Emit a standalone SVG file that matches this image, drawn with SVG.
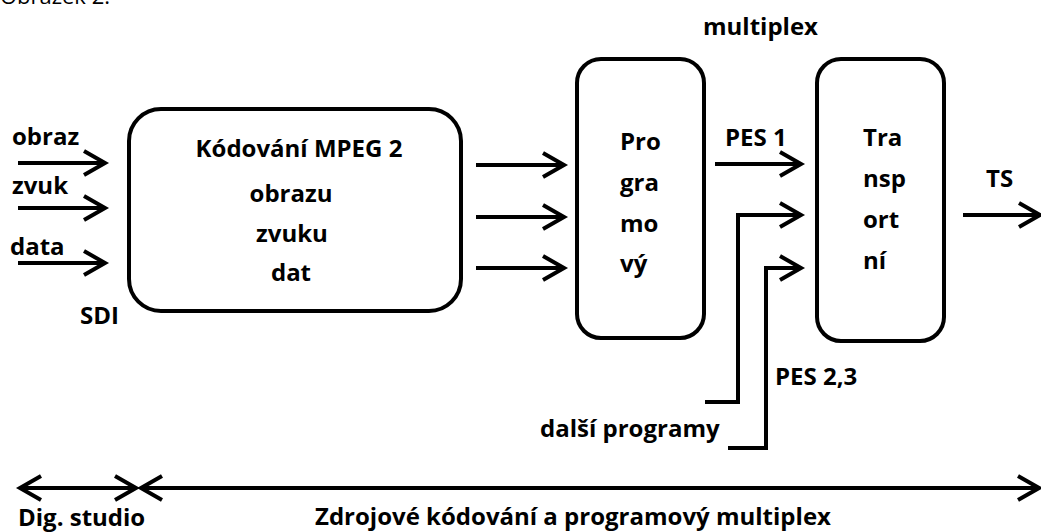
<svg xmlns="http://www.w3.org/2000/svg" width="1041" height="532" viewBox="0 0 1041 532">
<style>
  text { font-family: "Open Sans", "Liberation Sans", sans-serif; font-weight: bold; font-size: 24px; fill: #000; }
  .mid { text-anchor: middle; }
  .cap { font-weight: normal; font-size: 22px; }
  .box { fill: #fff; stroke: #000; stroke-width: 4; }
  .wire { fill: none; stroke: #000; stroke-width: 4; }
  .arr { marker-end: url(#chev); }
  .dbl { marker-start: url(#chevs); marker-end: url(#chev); }
</style>
<defs>
  <marker id="chev" markerUnits="userSpaceOnUse" viewBox="-26 -16 30 32" markerWidth="30" markerHeight="32" refX="0" refY="0" orient="auto" overflow="visible">
    <path d="M-21,-12 L0,0 L-21,12" fill="none" stroke="#000" stroke-width="4" stroke-linejoin="miter"/>
  </marker>
  <marker id="chevs" markerUnits="userSpaceOnUse" viewBox="-26 -16 30 32" markerWidth="30" markerHeight="32" refX="0" refY="0" orient="auto-start-reverse" overflow="visible">
    <path d="M-21,-12 L0,0 L-21,12" fill="none" stroke="#000" stroke-width="4" stroke-linejoin="miter"/>
  </marker>
</defs>
<rect width="1041" height="532" fill="#fff"/>
<text class="cap" x="110" y="4" text-anchor="end">Obrázek 2.</text>

<g id="connectors">
  <line class="wire arr" x1="18" y1="163" x2="105" y2="163"/>
  <line class="wire arr" x1="18" y1="208" x2="105" y2="208"/>
  <line class="wire arr" x1="18" y1="263" x2="105" y2="263"/>
  <line class="wire arr" x1="476" y1="165" x2="564" y2="165"/>
  <line class="wire arr" x1="476" y1="217" x2="564" y2="217"/>
  <line class="wire arr" x1="476" y1="268" x2="564" y2="268"/>
  <line class="wire arr" x1="715" y1="164" x2="801" y2="164"/>
  <polyline class="wire arr" points="705,402 738,402 738,215 801,215"/>
  <polyline class="wire arr" points="728,448 766,448 766,268 801,268"/>
  <line class="wire arr" x1="963" y1="215" x2="1040" y2="215"/>
  <line class="wire dbl" x1="20" y1="488" x2="136" y2="488"/>
  <line class="wire dbl" x1="141" y1="488" x2="1039" y2="488"/>
</g>

<g id="inputs">
  <text x="12" y="145">obraz</text>
  <text x="12" y="194">zvuk</text>
  <text x="10" y="255">data</text>
  <text x="80" y="324">SDI</text>
</g>

<g id="mpeg">
  <rect class="box" x="129" y="109" width="332" height="202" rx="32"/>
  <text class="mid" x="299" y="157">Kódování MPEG 2</text>
  <text class="mid" x="291" y="202">obrazu</text>
  <text class="mid" x="292" y="242">zvuku</text>
  <text class="mid" x="291" y="281">dat</text>
</g>

<g id="programovy">
  <rect class="box" x="577" y="59" width="127" height="279" rx="24"/>
  <text x="620" y="150">Pro</text>
  <text x="620" y="191">gra</text>
  <text x="620" y="232">mo</text>
  <text x="620" y="272">vý</text>
</g>

<g id="transportni">
  <rect class="box" x="817" y="59" width="127" height="282" rx="24"/>
  <text x="863" y="146">Tra</text>
  <text x="863" y="187">nsp</text>
  <text x="863" y="228">ort</text>
  <text x="863" y="269">ní</text>
</g>

<g id="labels">
  <text x="703" y="35">multiplex</text>
  <text x="725" y="146">PES 1</text>
  <text x="986" y="187">TS</text>
  <text x="775" y="385">PES 2,3</text>
  <text x="540" y="437">další programy</text>
  <text x="18" y="526">Dig. studio</text>
  <text x="315" y="525">Zdrojové kódování a programový multiplex</text>
</g>
</svg>
